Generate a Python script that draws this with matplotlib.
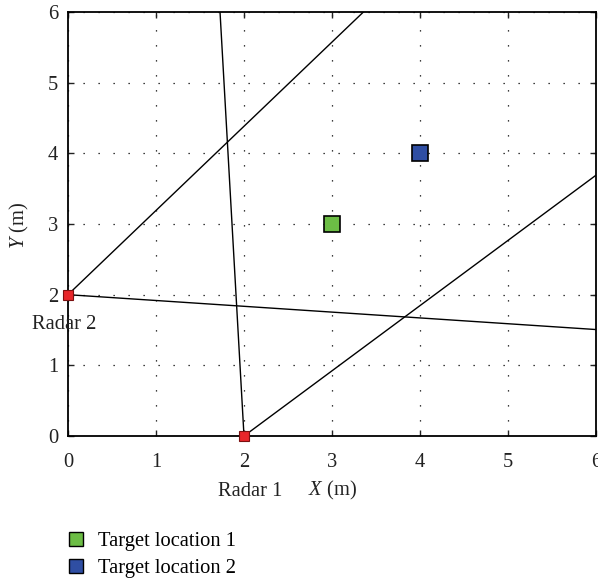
import numpy as np
import matplotlib
matplotlib.use("Agg")
import matplotlib.pyplot as plt
from matplotlib.lines import Line2D

plt.rcParams['font.family'] = ['Liberation Serif', 'DejaVu Serif']
plt.rcParams['mathtext.fontset'] = 'custom'
plt.rcParams['mathtext.it'] = 'Liberation Serif:italic'
plt.rcParams['mathtext.rm'] = 'Liberation Serif'

# Radar positions (m)
radar_x = [2.0, 0.0]
radar_y = [0.0, 2.0]
radar_names = ["Radar 1", "Radar 2"]

# Beam boundary directions for each radar (degrees from +X axis)
radar1_beams = [92.6, 42.7]
radar2_beams = [50.0, -4.7]

# Target positions (m)
target_x = [3.0, 4.0]
target_y = [3.0, 4.0]
target_names = ["Target location 1", "Target location 2"]
target_colors = ["#6cbd45", "#2f4ea3"]

ticks = [0, 1, 2, 3, 4, 5, 6]

FS = 14.8
TXT = '#222222'

fig = plt.figure(figsize=(5.98, 5.84), dpi=100)
ax = fig.add_axes([0.1137, 0.2534, 0.883, 0.726])
ax.set_xlim(0, 6)
ax.set_ylim(0, 6)
ax.set_xticks(ticks)
ax.set_yticks(ticks)
ax.tick_params(direction='in', top=True, right=True, length=4, width=1,
               labelsize=FS, colors=TXT)
ax.tick_params(axis='x', pad=12)
ax.tick_params(axis='y', pad=7)
for s in ax.spines.values():
    s.set_linewidth(1.3)
ax.grid(True, color='black', linestyle=(0, (1, 11)), linewidth=0.9)

# Beam boundary lines
L = 20.0
for (rx, ry), beams in zip(zip(radar_x, radar_y), [radar1_beams, radar2_beams]):
    for a in beams:
        t = np.deg2rad(a)
        ax.plot([rx, rx + L * np.cos(t)], [ry, ry + L * np.sin(t)],
                color='black', linewidth=1.0, zorder=3)

# Radars
ax.plot(radar_x, radar_y, linestyle='none', marker='s', markersize=6.5,
        markerfacecolor='#e8262a', markeredgecolor='#7a1010',
        markeredgewidth=0.8, clip_on=False, zorder=5)

# Targets
for tx, ty, c in zip(target_x, target_y, target_colors):
    ax.plot([tx], [ty], linestyle='none', marker='s', markersize=12,
            markerfacecolor=c, markeredgecolor='black', markeredgewidth=1.2,
            zorder=5)

# Radar labels
ax.annotate(radar_names[1], xy=(radar_x[1], radar_y[1]), xytext=(-3, -21.5),
            textcoords='offset points', ha='center', va='center',
            fontsize=FS, color=TXT, annotation_clip=False)
fig.text(250 / 598, 1 - 491 / 584, radar_names[0], ha='center', va='center',
         fontsize=FS, color=TXT)

fig.text(332 / 598, 1 - 490 / 584, r'$X$ (m)', ha='center', va='center',
         fontsize=FS, color=TXT)
fig.text(19 / 598, 1 - 225 / 584, r'$Y$ (m)', ha='center', va='center',
         rotation=90, fontsize=FS, color=TXT)

handles = [Line2D([], [], linestyle='none', marker='s', markersize=10,
                  markerfacecolor=c, markeredgecolor='black',
                  markeredgewidth=1.0) for c in target_colors]
fig.legend(handles, target_names, loc='upper left',
           bbox_to_anchor=(66 / 598, 1 - 532 / 584), frameon=False,
           fontsize=FS, handletextpad=0.55, labelspacing=0.35,
           handlelength=1.0, borderaxespad=0, borderpad=0)

fig.savefig('out.png', dpi=100)
